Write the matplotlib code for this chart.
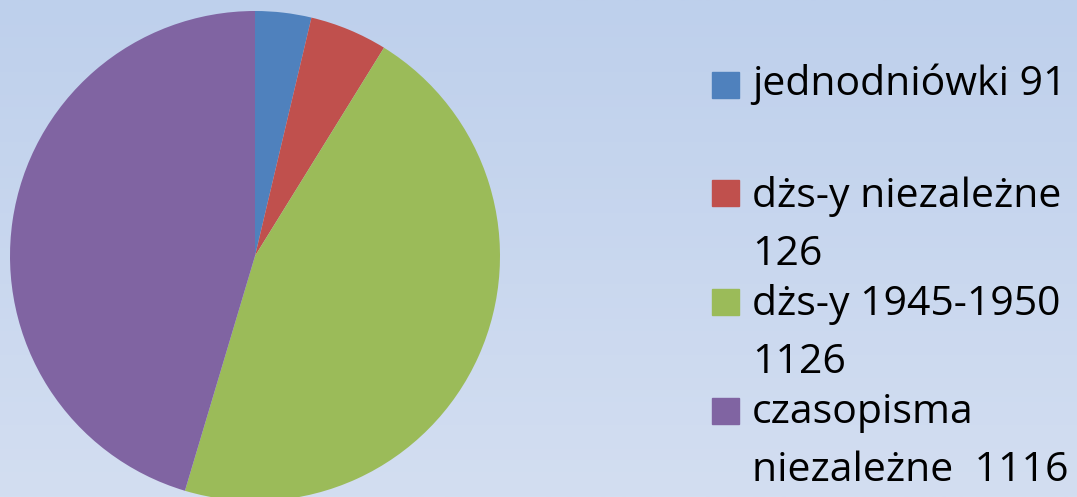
import numpy as np
import matplotlib.pyplot as plt
from matplotlib.patches import Rectangle

# Data
labels = ["jednodniówki 91", "dżs-y niezależne\n126", "dżs-y 1945-1950\n1126", "czasopisma\nniezależne  1116"]
values = [91, 126, 1126, 1116]
colors = ["#4f81bd", "#c0504d", "#9bbb59", "#8064a2"]

W, H = 1077, 497
fig = plt.figure(figsize=(W / 100, H / 100), dpi=100)

# gradient background
bg = fig.add_axes([0, 0, 1, 1])
top = np.array([190, 208, 236]) / 255
bot = np.array([211, 222, 241]) / 255
t = np.linspace(0, 1, 200)[:, None]
grad = (top * (1 - t) + bot * t)[:, None, :]
bg.imshow(grad, aspect="auto", extent=[0, 1, 0, 1])
bg.axis("off")

# pie, center (255, 256) from top, radius 245 px
cx, cy, r = 255, 256, 245
ax = fig.add_axes([(cx - r) / W, (H - cy - r) / H, 2 * r / W, 2 * r / H])
ax.pie(values, colors=colors, startangle=90, counterclock=False, radius=1,
       wedgeprops=dict(linewidth=0))
ax.set_xlim(-1, 1)
ax.set_ylim(-1, 1)
ax.set_aspect("auto")
ax.axis("off")

# legend drawn by hand
sq_tops = [72, 180, 289, 398]
base1 = [95, 207, 315, 423]
line_gap = 58
for lab, col, st, b in zip(labels, colors, sq_tops, base1):
    fig.patches.append(Rectangle((712 / W, (H - st - 26) / H), 27 / W, 26 / H,
                                 transform=fig.transFigure, color=col))
    for k, line in enumerate(lab.split("\n")):
        fig.text(752 / W, (H - b - k * line_gap) / H, line, fontsize=29.5,
                 family="Open Sans", va="baseline", ha="left", color="black")

fig.savefig("out.png", dpi=100)
